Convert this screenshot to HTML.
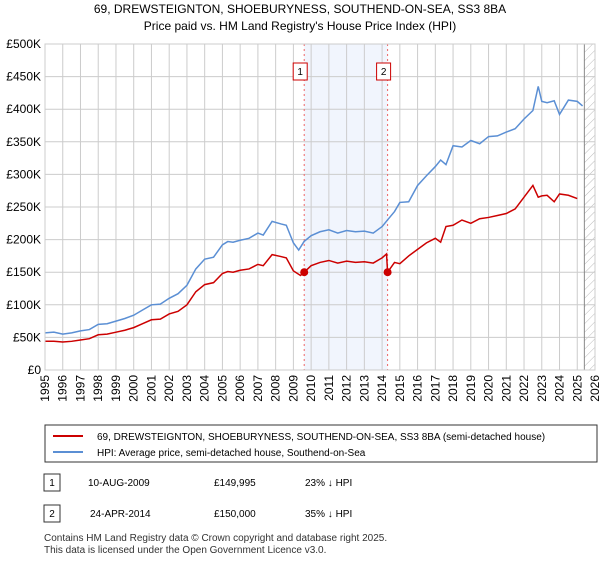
<!DOCTYPE html>
<html><head><meta charset="utf-8"><style>
body{margin:0;background:#fff;font-family:"Liberation Sans",sans-serif;}
svg text{font-family:"Liberation Sans",sans-serif;}
</style></head><body>
<svg width="600" height="560" viewBox="0 0 600 560">
<text x="300" y="13" text-anchor="middle" font-size="12">69, DREWSTEIGNTON, SHOEBURYNESS, SOUTHEND-ON-SEA, SS3 8BA</text>
<text x="300" y="30" text-anchor="middle" font-size="12">Price paid vs. HM Land Registry's House Price Index (HPI)</text>
<defs><pattern id="hatch" width="6" height="6" patternUnits="userSpaceOnUse" patternTransform="rotate(45)"><line x1="0" y1="0" x2="0" y2="6" stroke="#bbb" stroke-width="1"/></pattern></defs>
<g id="plot"></g>
<g id="legend">
<rect x="45" y="425" width="552" height="37" fill="#fff" stroke="#333"/>
<line x1="53" y1="436" x2="83" y2="436" stroke="#cc0000" stroke-width="2"/>
<text x="97" y="440" font-size="10">69, DREWSTEIGNTON, SHOEBURYNESS, SOUTHEND-ON-SEA, SS3 8BA (semi-detached house)</text>
<line x1="53" y1="452" x2="83" y2="452" stroke="#5b8fd4" stroke-width="2"/>
<text x="97" y="456" font-size="10">HPI: Average price, semi-detached house, Southend-on-Sea</text>
</g>
<g>
<rect x="44" y="474" width="16" height="17" fill="#fff" stroke="#333"/>
<text x="52" y="486" font-size="10" text-anchor="middle">1</text>
<text x="88" y="486" font-size="10">10-AUG-2009</text>
<text x="214" y="486" font-size="10">£149,995</text>
<text x="305" y="486" font-size="10">23% ↓ HPI</text>
<rect x="44" y="505" width="16" height="17" fill="#fff" stroke="#333"/>
<text x="52" y="517" font-size="10" text-anchor="middle">2</text>
<text x="90" y="517" font-size="10">24-APR-2014</text>
<text x="214" y="517" font-size="10">£150,000</text>
<text x="305" y="517" font-size="10">35% ↓ HPI</text>
</g>
<text x="44" y="541" font-size="10" fill="#333">Contains HM Land Registry data © Crown copyright and database right 2025.</text>
<text x="44" y="553" font-size="10" fill="#333">This data is licensed under the Open Government Licence v3.0.</text>
</svg>
<script>
const hpiYears=[1995,1995.5,1996,1996.5,1997,1997.5,1998,1998.5,1999,1999.5,2000,2000.5,2001,2001.5,2002,2002.5,2003,2003.5,2004,2004.5,2005,2005.3,2005.6,2006,2006.5,2007,2007.3,2007.8,2008.3,2008.6,2009,2009.3,2009.6,2010,2010.5,2011,2011.5,2012,2012.5,2013,2013.5,2014,2014.3,2014.7,2015,2015.5,2016,2016.5,2017,2017.3,2017.6,2018,2018.5,2019,2019.5,2020,2020.5,2021,2021.5,2022,2022.5,2022.8,2023,2023.3,2023.7,2024,2024.5,2025,2025.3];
const hpiValues=[57,58,55,57,60,62,70,71,75,79,84,92,100,101,110,117,130,155,170,173,192,197,196,199,202,210,207,228,224,222,195,184,197,206,212,215,210,214,212,213,210,220,230,243,257,258,283,298,312,322,315,344,342,352,347,358,359,365,370,385,398,435,412,410,413,392,414,412,405];
const priceYears=[1995,1995.5,1996,1996.5,1997,1997.5,1998,1998.5,1999,1999.5,2000,2000.5,2001,2001.5,2002,2002.5,2003,2003.5,2004,2004.5,2005,2005.3,2005.6,2006,2006.5,2007,2007.3,2007.8,2008.3,2008.6,2009,2009.4,2009.61,2010,2010.5,2011,2011.5,2012,2012.5,2013,2013.5,2014,2014.25,2014.31,2014.7,2015,2015.5,2016,2016.5,2017,2017.3,2017.6,2018,2018.5,2019,2019.5,2020,2020.5,2021,2021.5,2022,2022.5,2022.8,2023,2023.3,2023.7,2024,2024.5,2025,2025.3];
const priceValues=[44,44,43,44,46,48,54,55,58,61,65,71,77,78,86,90,100,120,131,134,148,151,150,153,155,162,160,177,174,172,152,145,149.995,160,165,168,164,167,165,166,164,172,178,150,165,163,175,185,195,202,196,220,222,230,225,232,234,237,240,247,265,283,265,267,268,258,270,268,263];
const sales=[[2009.61,149.995,"1"],[2014.31,150,"2"]];
const yTicks=[0,50,100,150,200,250,300,350,400,450,500];
const yLabels=["£0","£50K","£100K","£150K","£200K","£250K","£300K","£350K","£400K","£450K","£500K"];
const xTicks=[1995,1996,1997,1998,1999,2000,2001,2002,2003,2004,2005,2006,2007,2008,2009,2010,2011,2012,2013,2014,2015,2016,2017,2018,2019,2020,2021,2022,2023,2024,2025,2026];
const X0=45,X1=595,Y0=370,Y1=44;
const xs=y=>X0+(y-1995)/(2026-1995)*(X1-X0);
const ys=v=>Y0-v/500*(Y0-Y1);
const NS="http://www.w3.org/2000/svg";
const g=document.getElementById('plot');
function mk(t,a){const e=document.createElementNS(NS,t);for(const k in a)e.setAttribute(k,a[k]);g.appendChild(e);return e;}
let e=mk('rect',{x:xs(2009.61),y:Y1,width:xs(2014.31)-xs(2009.61),height:Y0-Y1,fill:'#eef3fc',opacity:0.8});


e=mk('rect',{x:xs(2025.4),y:Y1,width:X1-xs(2025.4),height:Y0-Y1,fill:'url(#hatch)'});


yTicks.forEach((t,i)=>{
 let l=mk('line',{x1:X0,x2:X1,y1:ys(t),y2:ys(t),stroke:'#ccc'});
 
 
 let tx=mk('text',{x:X0-4,y:ys(t)+4,'text-anchor':'end','font-size':12});
 tx.textContent=yLabels[i];
 
 
});
xTicks.forEach(t=>{
 let l=mk('line',{x1:xs(t),x2:xs(t),y1:Y1,y2:Y0,stroke:'#ccc'});
 
 
 let tx=mk('text',{x:0,y:0,'text-anchor':'end','font-size':12,transform:`translate(${xs(t)+4},375) rotate(-90)`});
 tx.textContent=t;
 
 
});
e=mk('line',{x1:xs(2025.4),x2:xs(2025.4),y1:Y1,y2:Y0,stroke:'#888'});


sales.forEach(s=>{
 let l=mk('line',{x1:xs(s[0]),x2:xs(s[0]),y1:Y1,y2:Y0,stroke:'#e66','stroke-dasharray':'2,3'});
 
 
});
e=mk('polyline',{points:hpiYears.map((y,i)=>xs(y)+','+ys(hpiValues[i])).join(' '),fill:'none',stroke:'#5b8fd4','stroke-width':1.5});


e=mk('polyline',{points:priceYears.map((y,i)=>xs(y)+','+ys(priceValues[i])).join(' '),fill:'none',stroke:'#cc0000','stroke-width':1.5});


sales.forEach(s=>{
 let c=mk('circle',{cx:xs(s[0]),cy:ys(s[1]),r:4,fill:'#cc0000'});
 
 
 let r=mk('rect',{x:xs(s[0])-11,y:63,width:14,height:17,fill:'#fff',stroke:'#cc0000'});
 
 
 let t=mk('text',{x:xs(s[0])-4,y:75,'text-anchor':'middle','font-size':10});
 t.textContent=s[2];
 
 
});
e=mk('rect',{x:X0,y:Y1,width:X1-X0,height:Y0-Y1,fill:'none',stroke:'#ccc'});


</script>
</body></html>
